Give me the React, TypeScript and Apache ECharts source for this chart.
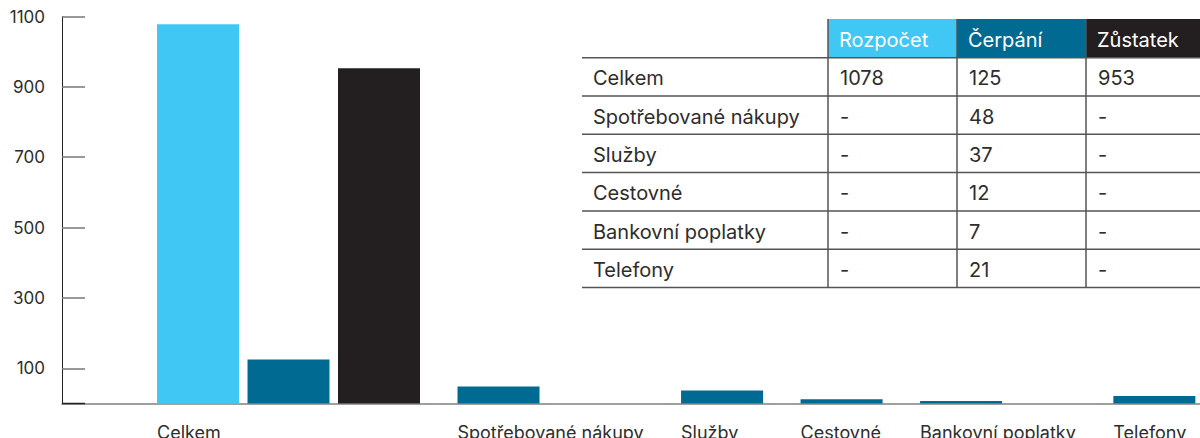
import React, { useEffect, useRef } from "react";
import * as echarts from "echarts";

// ---- data ----
const categories = ["Celkem", "Spotřebované nákupy", "Služby", "Cestovné", "Bankovní poplatky", "Telefony"];
const seriesNames = ["Rozpočet", "Čerpání", "Zůstatek"];
const rozpocet: (number | null)[] = [1078, null, null, null, null, null];
const cerpani: (number | null)[] = [125, 48, 37, 12, 7, 21];
const zustatek: (number | null)[] = [953, null, null, null, null, null];
const yTicks = [100, 300, 500, 700, 900, 1100];

// ---- styles ----
const colors = ["#41C7F4", "#006A93", "#231F20"];
const FONT = "Inter";
const W = 1200;
const H = 438;
const GRID_LEFT = 62;
const GRID_TOP = 16.5;
const AXIS_Y = 403.5;
const BAR_W = 82;
const BAR_STEP = 90.5;
const BAND_GAP = 37.5;
const FIRST_BAND = 95;
const LABEL_SIZE = 18;

export default function App() {
  const ref = useRef<HTMLDivElement>(null);
  useEffect(() => {
    const chart = echarts.init(ref.current!, null, { renderer: "svg" });
    const ctx = document.createElement("canvas").getContext("2d")!;
    ctx.font = `${LABEL_SIZE}px "${FONT}"`;

    const all = [rozpocet, cerpani, zustatek];
    const seriesData: any[][] = [[], [], []];
    const bandStarts: number[] = [];
    let x = FIRST_BAND;
    categories.forEach((cat, i) => {
      bandStarts.push(x);
      let n = 0;
      all.forEach((arr, s) => {
        const v = arr[i];
        if (v != null) {
          seriesData[s].push([x + n * BAR_STEP + BAR_W / 2, v]);
          n++;
        }
      });
      const barsW = n * BAR_W + (n - 1) * (BAR_STEP - BAR_W);
      const lw = ctx.measureText(cat).width;
      x += Math.max(barsW, lw) + BAND_GAP;
    });

    // ---- table (graphic) ----
    const tLeft = 582;
    const colX = [582, 828, 957, 1086, 1200];
    const headTop = 19;
    const headBottom = 57.7;
    const rowH = 38.3;
    const tableBottom = headBottom + rowH * categories.length;
    const lineColor = "#555555";
    const g: any[] = [];
    seriesNames.forEach((nm, s) => {
      g.push({
        type: "rect",
        shape: { x: colX[s + 1], y: headTop, width: colX[s + 2] - colX[s + 1], height: headBottom - headTop },
        style: { fill: colors[s] },
        z: 10,
      });
      g.push({
        type: "text",
        x: colX[s + 1] + 11,
        y: (headTop + headBottom) / 2 + 1.5,
        style: { text: nm, fill: "#ffffff", font: `20px "${FONT}"`, verticalAlign: "middle", align: "left" },
        z: 12,
      });
    });
    for (let k = 0; k <= categories.length; k++) {
      const yy = headBottom + k * rowH;
      g.push({ type: "line", shape: { x1: tLeft, y1: yy, x2: W, y2: yy }, style: { stroke: lineColor, lineWidth: 1.5 }, z: 11 });
    }
    [828, 957, 1086].forEach((vx) => {
      g.push({ type: "line", shape: { x1: vx, y1: headTop, x2: vx, y2: tableBottom }, style: { stroke: lineColor, lineWidth: 1.5 }, z: 11 });
    });
    categories.forEach((cat, i) => {
      const cy = headBottom + (i + 0.5) * rowH + 1.5;
      const cells = [cat, ...all.map((arr) => (arr[i] == null ? "-" : String(arr[i])))];
      cells.forEach((t, c) => {
        g.push({
          type: "text",
          x: colX[c] + (c === 0 ? 11 : 12),
          y: cy,
          style: { text: t, fill: "#2d2d2d", font: `20px "${FONT}"`, verticalAlign: "middle", align: "left" },
          z: 12,
        });
      });
    });
    // darker segment of the baseline under the first tick
    g.push({
      type: "line",
      shape: { x1: GRID_LEFT, y1: AXIS_Y, x2: GRID_LEFT + 23, y2: AXIS_Y },
      style: { stroke: "#222222", lineWidth: 1.5 },
      z: 1,
    });

    chart.setOption({
      animation: false,
      grid: {
        left: GRID_LEFT,
        right: 0,
        top: GRID_TOP,
        bottom: H - AXIS_Y,
        containLabel: false,
        outerBoundsMode: "none",
      },
      xAxis: {
        type: "value",
        min: 0,
        max: W - GRID_LEFT,
        splitLine: { show: false },
        axisTick: { show: false },
        axisLine: { show: true, lineStyle: { color: "#808080", width: 1.5 } },
        axisLabel: {
          customValues: bandStarts,
          align: "left",
          margin: 20,
          fontFamily: FONT,
          fontSize: LABEL_SIZE,
          color: "#2d2d2d",
          formatter: (v: number) => {
            const idx = bandStarts.findIndex((b) => Math.abs(b - v) < 0.01);
            return idx >= 0 ? categories[idx] : "";
          },
        },
      },
      yAxis: {
        type: "value",
        min: 0,
        max: 1100,
        splitLine: { show: false },
        axisLine: { show: true, lineStyle: { color: "#222222", width: 1 } },
        axisTick: {
          show: true,
          inside: true,
          length: 23,
          customValues: yTicks,
          lineStyle: { color: "#777777", width: 1.5 },
        },
        axisLabel: {
          customValues: yTicks,
          margin: 17,
          fontFamily: FONT,
          fontSize: 17,
          color: "#2d2d2d",
          formatter: (v: number) => String(v),
        },
      },
      series: seriesNames.map((nm, s) => ({
        name: nm,
        type: "bar",
        barWidth: BAR_W,
        barGap: "-100%",
        itemStyle: { color: colors[s] },
        data: seriesData[s],
      })),
      graphic: g,
    });
    return () => chart.dispose();
  }, []);
  return <div ref={ref} style={{ position: "absolute", left: 0, top: 0, width: W, height: H }} />;
}
